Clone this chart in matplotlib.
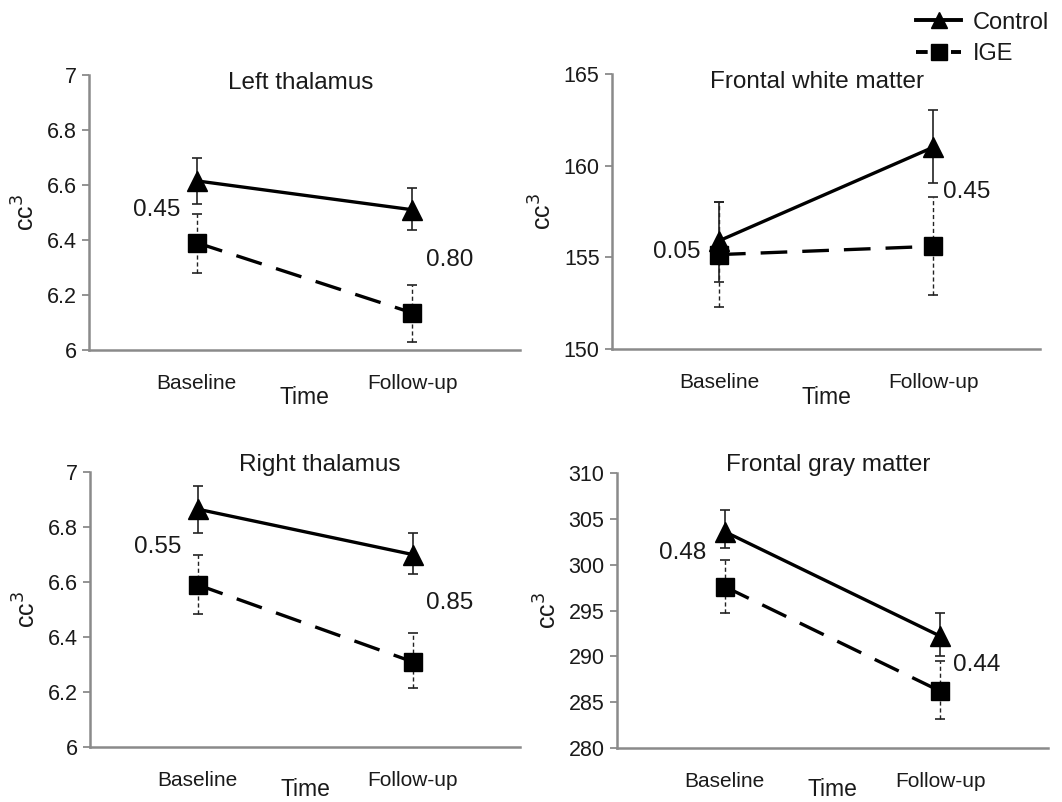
import matplotlib
matplotlib.use("Agg")
import matplotlib.pyplot as plt
from matplotlib.lines import Line2D

plt.rcParams['font.family'] = ['Liberation Sans', 'DejaVu Sans']

categories = ["Baseline", "Follow-up"]
titles = ["Left thalamus", "Frontal white matter", "Right thalamus", "Frontal gray matter"]

control_mean = [[6.615, 6.51], [155.9, 161.0], [6.865, 6.70], [303.6, 292.2]]
control_err_hi = [[6.70, 6.59], [158.0, 163.05], [6.95, 6.78], [306.0, 294.7]]
control_err_lo = [[6.53, 6.435], [153.65, 159.05], [6.78, 6.63], [301.8, 290.0]]
ige_mean = [[6.39, 6.135], [155.15, 155.6], [6.59, 6.31], [297.6, 286.2]]
ige_err_hi = [[6.495, 6.235], [158.0, 158.3], [6.70, 6.415], [300.5, 289.5]]
ige_err_lo = [[6.28, 6.03], [152.3, 152.95], [6.485, 6.215], [294.75, 283.2]]

y_ticks = [[6, 6.2, 6.4, 6.6, 6.8, 7], [150, 155, 160, 165],
           [6, 6.2, 6.4, 6.6, 6.8, 7], [280, 285, 290, 295, 300, 305, 310]]
y_ticklabels = [["6", "6.2", "6.4", "6.6", "6.8", "7"], ["150", "155", "160", "165"],
                ["6", "6.2", "6.4", "6.6", "6.8", "7"],
                ["280", "285", "290", "295", "300", "305", "310"]]

p_labels = [["0.45", "0.80"], ["0.05", "0.45"], ["0.55", "0.85"], ["0.48", "0.44"]]
p_pos = [[(-0.184, 6.51), (1.175, 6.327)],
         [(-0.196, 155.29), (1.159, 158.56)],
         [(-0.184, 6.727), (1.174, 6.524)],
         [(-0.194, 301.27), (1.17, 289.05)]]

W, H = 1062, 802
fig = plt.figure(figsize=(W / 100, H / 100), dpi=100)

# axes boxes in pixels: left, right, top, bottom
boxes = [(89, 520, 75, 350), (612, 1040, 74, 349), (90, 520, 472, 747), (617, 1048, 473, 748)]
title_pos = [(0.49, 0.97), (0.48, 0.97), (0.535, 1.025), (0.49, 1.03)]
time_off = [47, 48, 43, 42]

spine_col = "#8a8a8a"
txt_col = "#1a1a1a"

for i in range(4):
    l, r, t, b = boxes[i]
    ax = fig.add_axes([l / W, 1 - b / H, (r - l) / W, (b - t) / H])
    x = [0, 1]
    # error bars
    for j in range(2):
        ax.errorbar(x[j], control_mean[i][j],
                    yerr=[[control_mean[i][j] - control_err_lo[i][j]],
                          [control_err_hi[i][j] - control_mean[i][j]]],
                    fmt='none', ecolor='#222222', elinewidth=1.2, capsize=3.5, capthick=1.2, zorder=2)
        eb = ax.errorbar(x[j], ige_mean[i][j],
                         yerr=[[ige_mean[i][j] - ige_err_lo[i][j]],
                               [ige_err_hi[i][j] - ige_mean[i][j]]],
                         fmt='none', ecolor='#222222', elinewidth=1.0, capsize=3.5, capthick=1.2, zorder=2)
        eb[2][0].set_linestyle((0, (3, 2)))
    ax.plot(x, control_mean[i], color='black', lw=2.4, marker='^', markersize=14, zorder=4)
    ax.plot(x, ige_mean[i], color='black', lw=2.4, linestyle=(0, (8, 4.5)), marker='s',
            markersize=12.5, zorder=3)

    yt = y_ticks[i]
    ax.set_ylim(yt[0], yt[-1])
    ax.set_xlim(-0.5, 1.5)
    ax.set_yticks(yt)
    ax.set_yticklabels(y_ticklabels[i], fontsize=15.5, color=txt_col)
    ax.set_xticks(x)
    ax.set_xticklabels(categories, fontsize=15, color=txt_col)
    ax.tick_params(axis='x', length=0, pad=17)
    ax.tick_params(axis='y', length=5, width=1.3, color=spine_col, pad=4)
    for s in ['top', 'right']:
        ax.spines[s].set_visible(False)
    for s in ['left', 'bottom']:
        ax.spines[s].set_color(spine_col)
        ax.spines[s].set_linewidth(1.8)
    ax.patch.set_alpha(0)

    ax.set_ylabel("cc$^3$", fontsize=18, color=txt_col, labelpad=5)
    ax.text(title_pos[i][0], title_pos[i][1], titles[i], transform=ax.transAxes,
            ha='center', va='center', fontsize=17.5, color=txt_col)
    ax.text(0.5, -time_off[i] / (b - t), "Time", transform=ax.transAxes,
            ha='center', va='center', fontsize=16.5, color=txt_col)
    for k in range(2):
        ax.text(p_pos[i][k][0], p_pos[i][k][1], p_labels[i][k], ha='center', va='center',
                fontsize=17.5, color=txt_col, zorder=5)

handles = [Line2D([], [], color='black', lw=2.8, marker='^', markersize=12),
           Line2D([], [], color='black', lw=2.8, linestyle=(0, (3, 1.5)), marker='s', markersize=11)]
fig.legend(handles, ["Control", "IGE"], loc='upper right', bbox_to_anchor=(1.008, 1.012),
           frameon=False, fontsize=17, handlelength=1.9, handletextpad=0.5, labelspacing=0.4,
           labelcolor=txt_col)

fig.savefig("out.png", dpi=100)
